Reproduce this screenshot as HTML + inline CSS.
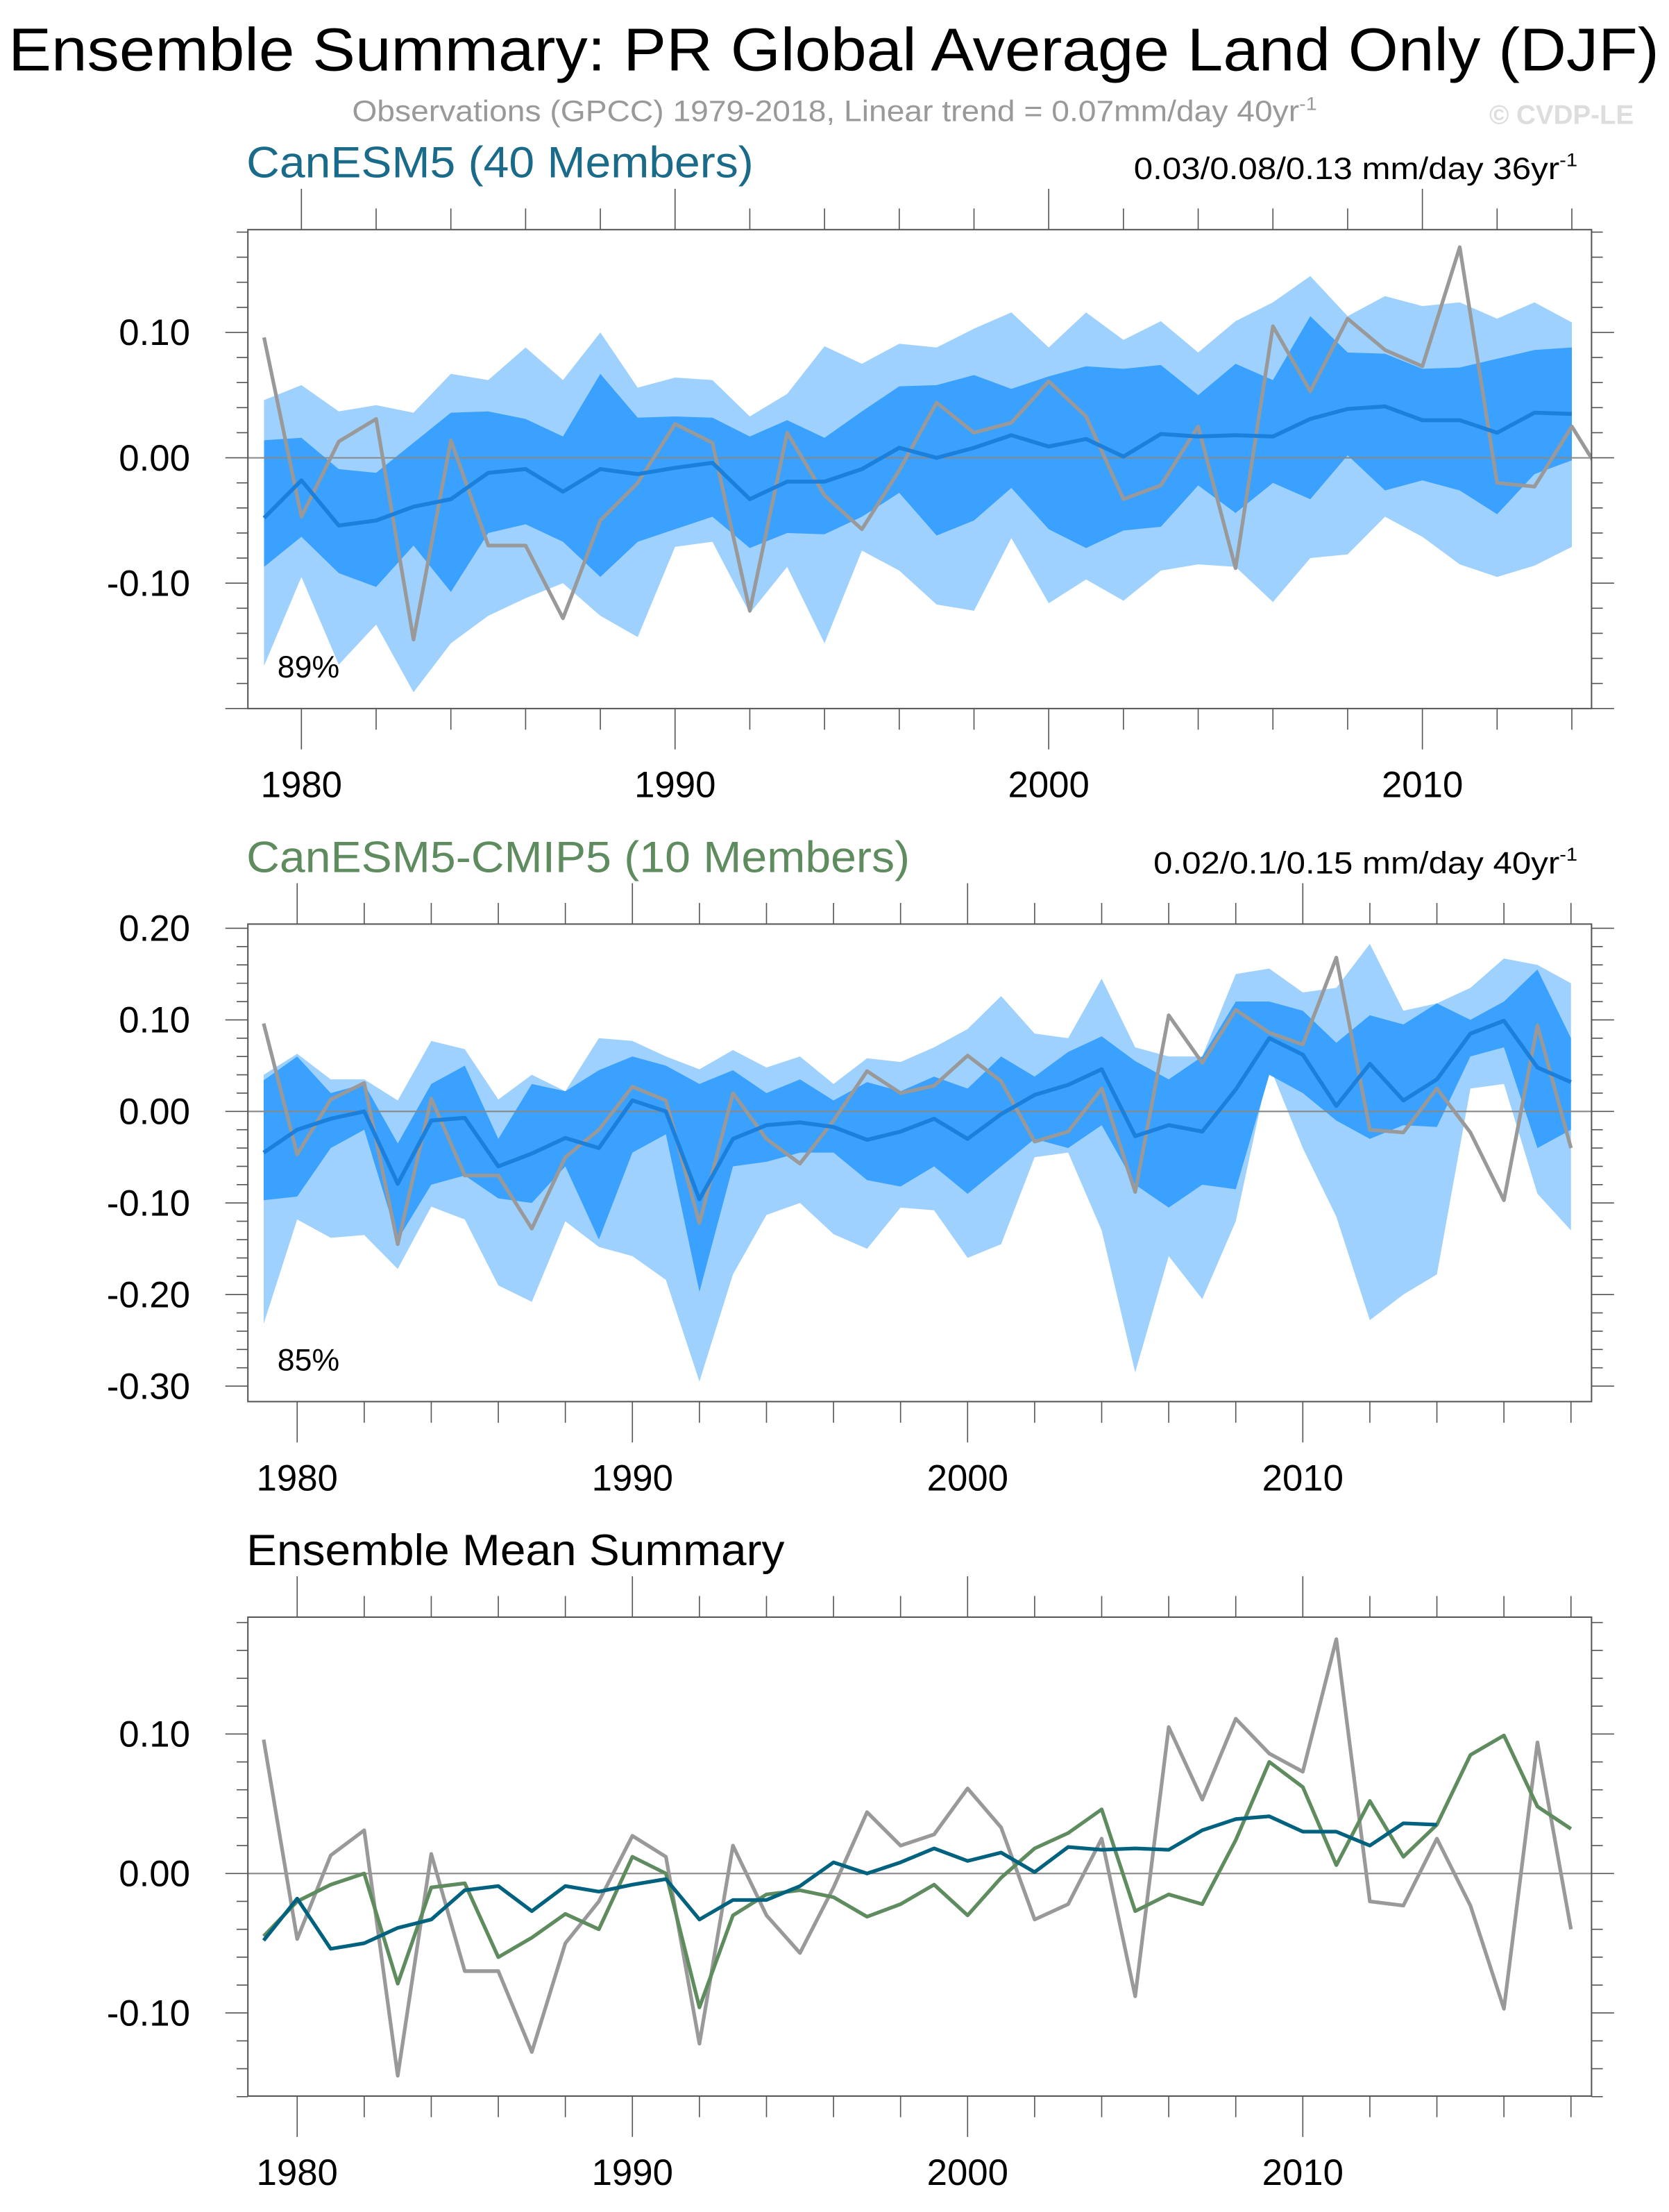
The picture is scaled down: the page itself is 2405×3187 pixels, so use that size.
<!DOCTYPE html>
<html><head><meta charset="utf-8"><style>
html,body{margin:0;padding:0;background:#fff;}
svg{display:block;font-family:"Liberation Sans",sans-serif;}
</style></head><body>
<svg id="chart" width="2405" height="3187" viewBox="0 0 1185 1570.3" preserveAspectRatio="none" xmlns="http://www.w3.org/2000/svg">
<text x="6" y="50" font-size="43" textLength="1172" lengthAdjust="spacingAndGlyphs" fill="#000">Ensemble Summary: PR Global Average Land Only (DJF)</text>
<text x="250" y="86" font-size="21" textLength="685" lengthAdjust="spacingAndGlyphs" fill="#999">Observations (GPCC) 1979-2018, Linear trend = 0.07mm/day 40yr<tspan dy="-8" font-size="13">-1</tspan></text>
<text x="1160" y="88" font-size="19" font-weight="bold" text-anchor="end" fill="#ddd">© CVDP-LE</text>
<text x="175" y="126" font-size="31" textLength="360" lengthAdjust="spacingAndGlyphs" fill="#1a6a8a">CanESM5 (40 Members)</text>
<text x="805" y="127" font-size="22" textLength="315" lengthAdjust="spacingAndGlyphs" fill="#000">0.03/0.08/0.13 mm/day 36yr<tspan dy="-9" font-size="13">-1</tspan></text>
<text x="175" y="619" font-size="31" textLength="471" lengthAdjust="spacingAndGlyphs" fill="#5e8c5e">CanESM5-CMIP5 (10 Members)</text>
<text x="819" y="620" font-size="22" textLength="301" lengthAdjust="spacingAndGlyphs" fill="#000">0.02/0.1/0.15 mm/day 40yr<tspan dy="-9" font-size="13">-1</tspan></text>
<text x="175" y="1111" font-size="31" textLength="382" lengthAdjust="spacingAndGlyphs" fill="#000">Ensemble Mean Summary</text>
<g id="plots"></g>
</svg>
<script>
const yearsObs = [1979,1980,1981,1982,1983,1984,1985,1986,1987,1988,1989,1990,1991,1992,1993,1994,1995,1996,1997,1998,1999,2000,2001,2002,2003,2004,2005,2006,2007,2008,2009,2010,2011,2012,2013,2014,2015,2016,2017,2018];
const obs = [0.096,-0.047,0.013,0.031,-0.145,0.014,-0.07,-0.07,-0.128,-0.05,-0.02,0.027,0.012,-0.122,0.02,-0.03,-0.057,-0.01,0.044,0.02,0.028,0.061,0.033,-0.033,-0.022,0.025,-0.088,0.105,0.053,0.111,0.086,0.073,0.168,-0.02,-0.023,0.025,-0.023,-0.097,0.094,-0.04];
const years5 = yearsObs.slice(0,36);
const can5Mean = [-0.048,-0.018,-0.054,-0.05,-0.039,-0.033,-0.012,-0.009,-0.027,-0.009,-0.013,-0.008,-0.004,-0.033,-0.019,-0.019,-0.009,0.008,0.000,0.008,0.018,0.009,0.015,0.001,0.019,0.017,0.018,0.017,0.031,0.039,0.041,0.03,0.03,0.02,0.036,0.035];
const can5Max = [0.046,0.058,0.037,0.042,0.036,0.067,0.062,0.088,0.062,0.1,0.056,0.064,0.062,0.033,0.051,0.089,0.075,0.091,0.088,0.103,0.116,0.088,0.116,0.094,0.109,0.084,0.109,0.124,0.145,0.113,0.129,0.121,0.124,0.111,0.124,0.108];
const can5Hi = [0.014,0.016,-0.009,-0.012,0.012,0.036,0.037,0.031,0.017,0.067,0.032,0.033,0.032,0.017,0.03,0.016,0.037,0.057,0.058,0.066,0.055,0.065,0.073,0.071,0.074,0.05,0.075,0.062,0.113,0.084,0.083,0.071,0.072,0.079,0.086,0.088];
const can5Lo = [-0.087,-0.063,-0.092,-0.103,-0.07,-0.107,-0.06,-0.053,-0.067,-0.095,-0.067,-0.057,-0.047,-0.072,-0.06,-0.061,-0.047,-0.028,-0.062,-0.05,-0.024,-0.057,-0.072,-0.058,-0.055,-0.022,-0.044,-0.02,-0.033,0.002,-0.026,-0.018,-0.026,-0.045,-0.013,-0.002];
const can5Min = [-0.166,-0.095,-0.165,-0.133,-0.187,-0.148,-0.126,-0.112,-0.1,-0.126,-0.143,-0.071,-0.067,-0.124,-0.087,-0.148,-0.074,-0.09,-0.117,-0.122,-0.064,-0.116,-0.097,-0.114,-0.09,-0.085,-0.087,-0.115,-0.08,-0.077,-0.047,-0.063,-0.085,-0.095,-0.086,-0.071];
const cmipMean = [-0.045,-0.02,-0.008,0.000,-0.079,-0.01,-0.007,-0.06,-0.046,-0.029,-0.04,0.012,0.000,-0.096,-0.03,-0.015,-0.012,-0.017,-0.031,-0.022,-0.008,-0.03,-0.003,0.018,0.029,0.046,-0.027,-0.015,-0.022,0.024,0.08,0.062,0.006,0.052,0.012,0.035,0.085,0.099,0.048,0.032];
const cmipMax = [0.04,0.063,0.035,0.035,0.012,0.077,0.068,0.013,0.04,0.022,0.08,0.077,0.06,0.046,0.067,0.048,0.06,0.03,0.058,0.054,0.07,0.09,0.126,0.085,0.08,0.145,0.07,0.06,0.06,0.15,0.156,0.13,0.135,0.183,0.11,0.118,0.135,0.167,0.16,0.14];
const cmipHi = [0.034,0.06,0.02,0.03,-0.035,0.03,0.05,-0.03,0.03,0.022,0.045,0.06,0.05,0.03,0.045,0.02,0.035,0.012,0.032,0.022,0.038,0.025,0.06,0.038,0.065,0.082,0.055,0.035,0.06,0.12,0.12,0.11,0.075,0.105,0.095,0.118,0.1,0.12,0.155,0.08];
const cmipLo = [-0.097,-0.093,-0.04,-0.02,-0.14,-0.08,-0.07,-0.095,-0.1,-0.06,-0.14,-0.045,-0.025,-0.197,-0.06,-0.055,-0.045,-0.045,-0.075,-0.082,-0.06,-0.09,-0.06,-0.03,-0.04,-0.015,-0.08,-0.105,-0.08,-0.085,0.04,0.02,-0.01,-0.03,-0.015,-0.017,0.06,0.07,-0.04,-0.02];
const cmipMin = [-0.232,-0.118,-0.138,-0.135,-0.172,-0.104,-0.118,-0.19,-0.208,-0.12,-0.148,-0.158,-0.184,-0.295,-0.178,-0.113,-0.1,-0.134,-0.15,-0.105,-0.108,-0.16,-0.145,-0.05,-0.045,-0.13,-0.285,-0.158,-0.205,-0.12,0.05,-0.04,-0.115,-0.228,-0.2,-0.178,0.025,0.03,-0.09,-0.13];
const p1YTicks = [0.10,0.00,-0.10];
const p2YTicks = [0.20,0.10,0.00,-0.10,-0.20,-0.30];
const p3YTicks = [0.10,0.00,-0.10];
const xTicks = [1980,1990,2000,2010];

const NS='http://www.w3.org/2000/svg';
const root=document.getElementById('plots');
function mk(tag,attrs,parent){const e=document.createElementNS(NS,tag);for(const k in attrs)e.setAttribute(k,attrs[k]);(parent||root).appendChild(e);return e;}

function panel(cfg){
  const g=mk('g',{});
  
  
  const L=176,R=1130,T=cfg.top,B=cfg.bottom;
  const X=y=>cfg.x0+(y-cfg.y0)*cfg.xs;
  const Y=v=>cfg.zero-v*cfg.ys;
  const cp='clip'+cfg.name;
  const defs=mk('defs',{},g);const c=mk('clipPath',{id:cp},defs);mk('rect',{x:L,y:T,width:R-L,height:B-T},c);
  const pg=mk('g',{'clip-path':'url(#'+cp+')'},g);
  function band(yrs,lo,hi,fill,name){
    let d='M'+yrs.map((yr,i)=>X(yr)+','+Y(hi[i])).join('L');
    for(let i=yrs.length-1;i>=0;i--)d+='L'+X(yrs[i])+','+Y(lo[i]);
    const p=mk('path',{d:d+'Z',fill:fill},pg);
    
    
  }
  function line(yrs,vals,col,w,name){
    const p=mk('polyline',{points:yrs.map((yr,i)=>X(yr)+','+Y(vals[i])).join(' '),fill:'none',stroke:col,'stroke-width':w,'stroke-linejoin':'round'},pg);
    
    
  }
  if(cfg.bands){
    band(cfg.yrs,cfg.bands[0],cfg.bands[3],'#9fd1ff',cfg.name+'-minmax-band');
    band(cfg.yrs,cfg.bands[1],cfg.bands[2],'#3aa1ff',cfg.name+'-iqr-band');
  }
  mk('line',{x1:L,x2:R,y1:Y(0),y2:Y(0),stroke:'#888','stroke-width':1},pg);
  cfg.lines.forEach(l=>line(l[0],l[1],l[2],l[3],l[4]));
  mk('rect',{x:L,y:T,width:R-L,height:B-T,fill:'none',stroke:'#555','stroke-width':1},g);
  for(let v=-0.4;v<=0.4001;v+=0.02){
    const yy=Y(v); if(yy<T-0.5||yy>B+0.5)continue;
    const major=Math.abs(Math.round(v*100)%10)===0;
    const len=major?16:8;
    mk('line',{x1:L-len,x2:L,y1:yy,y2:yy,stroke:'#555','stroke-width':0.8},g);
    mk('line',{x1:R,x2:R+len,y1:yy,y2:yy,stroke:'#555','stroke-width':0.8},g);
  }
  cfg.yt.forEach(v=>{
    const t=mk('text',{x:L-41,y:Y(v)+9,'font-size':26,'text-anchor':'end',fill:'#000'},g);
    t.textContent=v.toFixed(2);
    
    
  });
  for(let yr=1978;yr<=2020;yr+=2){
    const xx=X(yr); if(xx<L||xx>R)continue;
    const major=yr%10===0; const len=major?29:15;
    mk('line',{x1:xx,x2:xx,y1:B,y2:B+len,stroke:'#555','stroke-width':0.8},g);
    mk('line',{x1:xx,x2:xx,y1:T-len,y2:T,stroke:'#555','stroke-width':0.8},g);
  }
  xTicks.forEach(yr=>{
    const t=mk('text',{x:X(yr),y:B+63,'font-size':26,'text-anchor':'middle',fill:'#000'},g);
    t.textContent=yr;
    
    
  });
  if(cfg.pct){
    const t=mk('text',{x:197,y:B-22,'font-size':22,fill:'#000'},g);
    t.textContent=cfg.pct;
    
    
  }
}
panel({name:'panel-canesm5',top:163,bottom:503,x0:214,y0:1980,xs:26.53,zero:325,ys:890,yt:p1YTicks,pct:'89%',
  yrs:years5,bands:[can5Min,can5Lo,can5Hi,can5Max],
  lines:[[yearsObs,obs,'#999',2.6,'obs-line'],[years5,can5Mean,'#1b7fdc',2.8,'canesm5-mean-line']]});
panel({name:'panel-canesm5-cmip5',top:656,bottom:995,x0:211,y0:1980,xs:23.8,zero:789,ys:650,yt:p2YTicks,pct:'85%',
  yrs:yearsObs,bands:[cmipMin,cmipLo,cmipHi,cmipMax],
  lines:[[yearsObs,obs,'#999',2.6,'obs-line'],[yearsObs,cmipMean,'#1b7fdc',2.8,'cmip5-mean-line']]});
panel({name:'panel-ensemble-mean',top:1148,bottom:1488,x0:211,y0:1980,xs:23.8,zero:1330,ys:990,yt:p3YTicks,
  lines:[[yearsObs,obs,'#999',2.6,'obs-line'],[yearsObs,cmipMean,'#5e8c5e',2.6,'cmip5-mean-line'],[years5,can5Mean,'#00627f',2.6,'canesm5-mean-line']]});
</script>
</body></html>
